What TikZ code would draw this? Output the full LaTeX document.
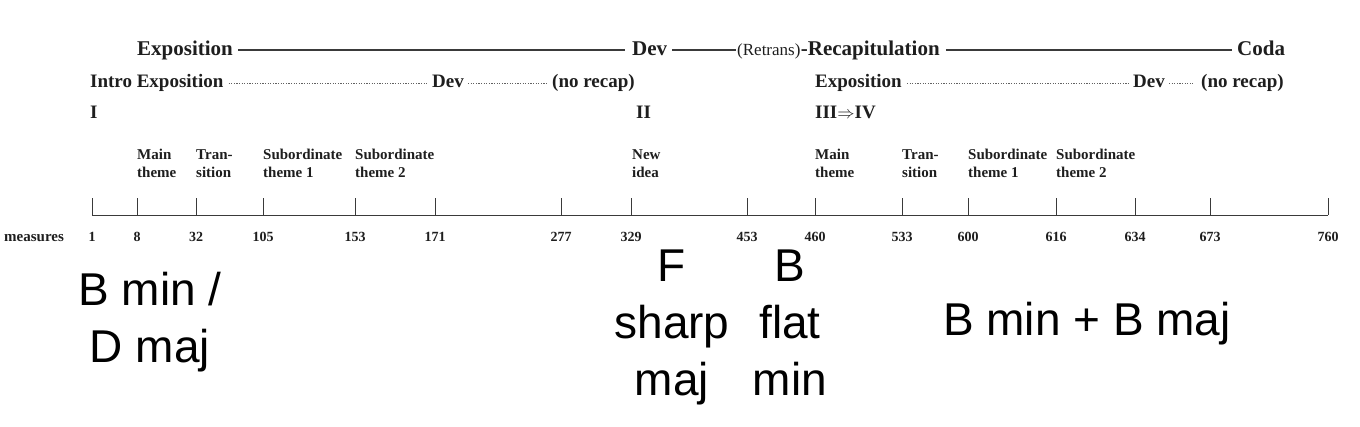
\documentclass[tikz,border=0pt]{standalone}
\usepackage{fontspec}
\setmainfont{Liberation Serif}
\newfontfamily\bigsans{Liberation Sans}
\definecolor{ink}{HTML}{1E1E1E}
\definecolor{rule}{HTML}{3A3A3A}
\begin{document}
\begin{tikzpicture}[x=1pt,y=-1pt,
  every node/.style={inner sep=0pt, text=ink},
  rowA/.style={anchor=base west, font=\bfseries\fontsize{21}{21}\selectfont},
  rowB/.style={anchor=base west, font=\bfseries\fontsize{19}{19}\selectfont},
  lab/.style={anchor=base west, align=left, font=\bfseries\fontsize{15}{18}\selectfont},
  num/.style={anchor=base, font=\bfseries\fontsize{14}{14}\selectfont},
  key/.style={align=center, font=\bigsans\fontsize{46}{57}\selectfont, text=black},
  solidrule/.style={draw=rule, line width=1.1pt},
  dotrule/.style={draw=rule!80, line width=0.8pt, dash pattern=on 1.2pt off 1.4pt},
  axis/.style={draw=rule, line width=1pt},
]
\useasboundingbox (0,0) rectangle (1360,426);

% ---- row 1
\node[rowA] (e1) at (137,55) {Exposition};
\node[rowA] (d1) at (632,55) {Dev};
\node[anchor=base west, font=\fontsize{17}{17}\selectfont] (rt) at (737,55) {(Retrans)};
\node[rowA, anchor=base west] (rc) at (rt.base east) {-Recapitulation};
\node[rowA] (cd) at (1237,55) {Coda};
\draw[solidrule] ([xshift=5pt]e1.east |- 0,50) -- ([xshift=-7pt]d1.west |- 0,50);
\draw[solidrule] ([xshift=5pt]d1.east |- 0,50) -- ([xshift=-1pt]rt.west |- 0,50);
\draw[solidrule] ([xshift=6pt]rc.east |- 0,50) -- ([xshift=-5pt]cd.west |- 0,50);

% ---- row 2
\node[rowB] (ie) at (90,87) {Intro Exposition};
\node[rowB] (d2) at (432,87) {Dev};
\node[rowB] (nr) at (552,87) {(no recap)};
\node[rowB] (e3) at (815,87) {Exposition};
\node[rowB] (d3) at (1133,87) {Dev};
\node[rowB] (nr2) at (1201,87) {(no recap)};
\draw[dotrule] ([xshift=5pt]ie.east |- 0,83) -- ([xshift=-4pt]d2.west |- 0,83);
\draw[dotrule] ([xshift=4pt]d2.east |- 0,83) -- ([xshift=-4pt]nr.west |- 0,83);
\draw[dotrule] ([xshift=5pt]e3.east |- 0,83) -- ([xshift=-4pt]d3.west |- 0,83);
\draw[dotrule] ([xshift=4pt]d3.east |- 0,83) -- ([xshift=-8pt]nr2.west |- 0,83);

% ---- row 3
\node[rowB] (r1) at (90,118) {I};
\node[rowB] (r2) at (636,118) {II};
\node[rowB] (r3) at (815,118) {III$\Rightarrow$IV};

% ---- section labels (anchor = baseline of last line)
\node[lab] (l1) at (137,177) {Main\\theme};
\node[lab] (l2) at (196,177) {Tran-\\sition};
\node[lab] (l3) at (263,177) {Subordinate\\theme 1};
\node[lab] (l4) at (355,177) {Subordinate\\theme 2};
\node[lab] (l5) at (632,177) {New\\idea};
\node[lab] (l6) at (815,177) {Main\\theme};
\node[lab] (l7) at (902,177) {Tran-\\sition};
\node[lab] (l8) at (968,177) {Subordinate\\theme 1};
\node[lab] (l9) at (1056,177) {Subordinate\\theme 2};

% ---- axis
\coordinate (axL) at (92,215);
\coordinate (axR) at (1328,215);
\draw[axis] (axL) -- (axR);
\node[anchor=base west, font=\bfseries\fontsize{15}{15}\selectfont] (meas) at (4,241) {measures};
\foreach \x/\n in {92/1, 137/8, 196/32, 263/105, 355/153, 435/171, 561/277, 631/329,
                   747/453, 815/460, 902/533, 968/600, 1056/616, 1135/634, 1210/673, 1328/760}{
  \coordinate (tk\n) at (\x,215);
  \draw[axis] (tk\n) -- ++(0,-17);
  \node[num] (m\n) at (\x,241) {\n};
}

% ---- keys (anchor = baseline of last line)
\node[key, anchor=base] (k1) at (150,362) {B min /\\D maj};
\node[key, anchor=base] (k2) at (672,395) {F\\sharp\\maj};
\node[key, anchor=base] (k3) at (790,395) {B\\flat\\min};
\node[key, anchor=base west] (k4) at (943,335) {B min + B maj};
\end{tikzpicture}
\end{document}
